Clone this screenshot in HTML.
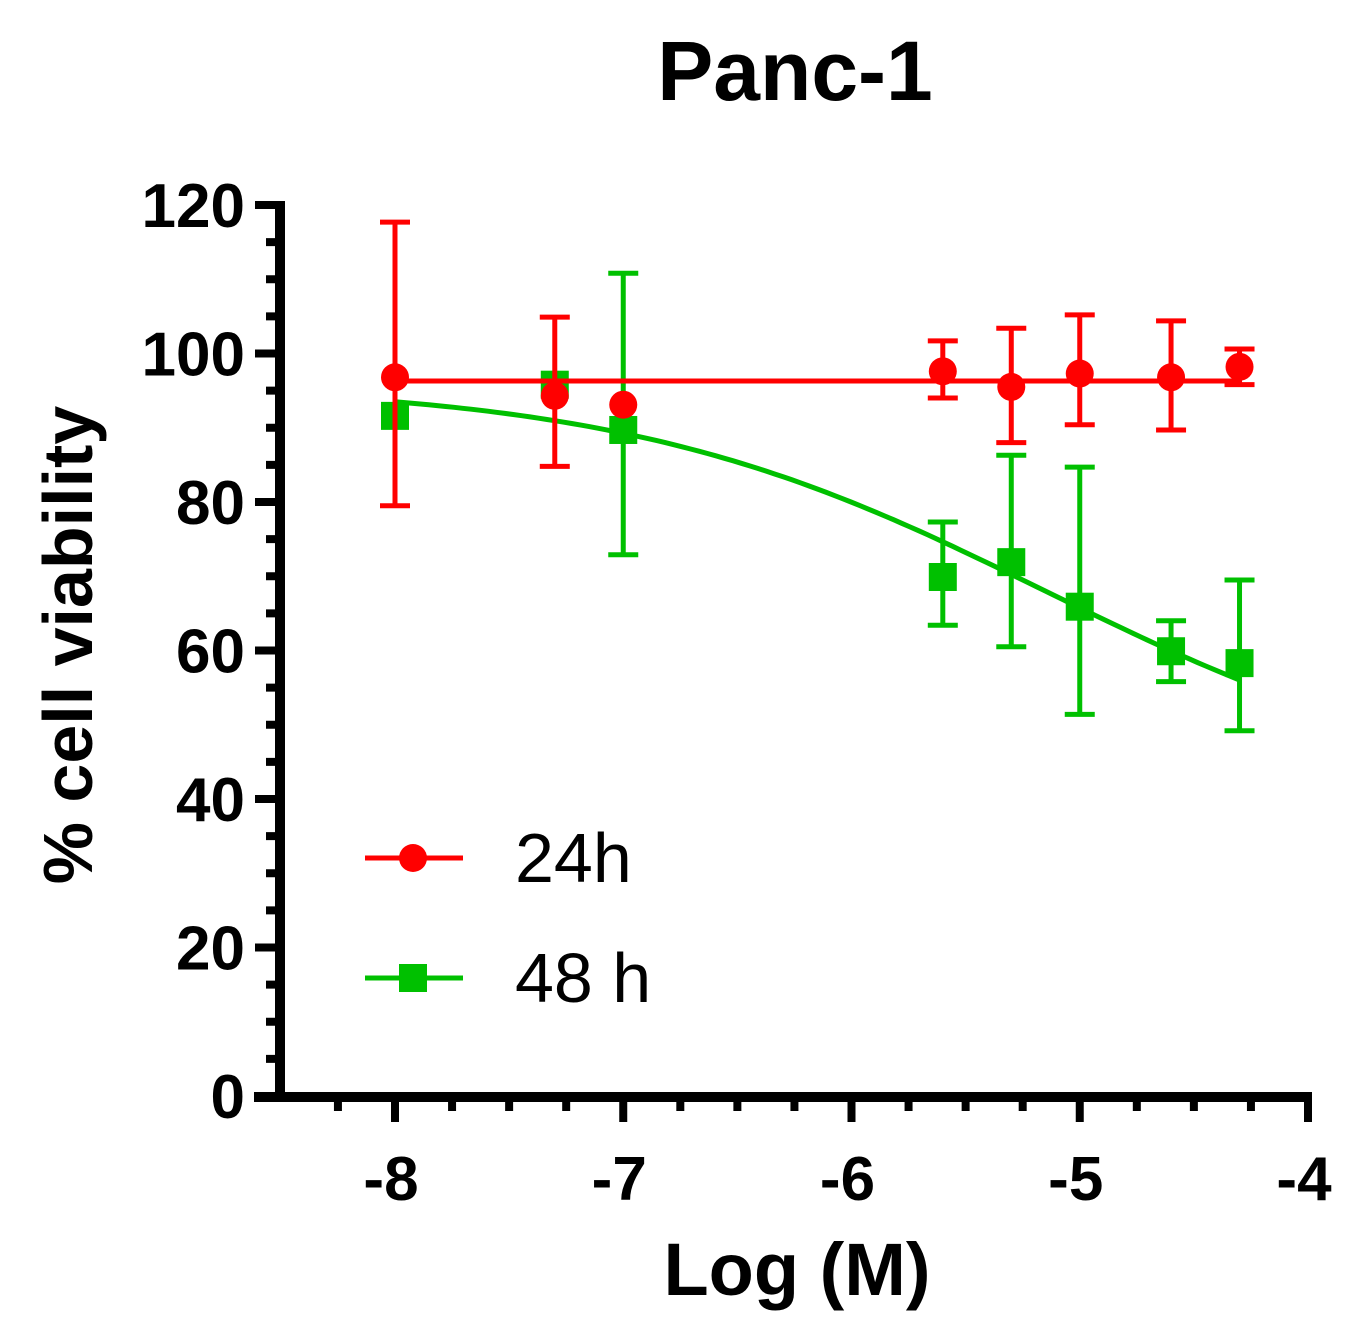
<!DOCTYPE html>
<html><head><meta charset="utf-8"><style>
body{margin:0;background:#fff}
svg text{font-family:"Liberation Sans",Arial,sans-serif}
</style></head><body>
<svg id="chart" width="1371" height="1332" viewBox="0 0 1371 1332" xmlns="http://www.w3.org/2000/svg">
<text x="795" y="100" font-size="84" font-weight="bold" text-anchor="middle">Panc-1</text>
<text transform="translate(92,645) rotate(-90)" font-size="70" font-weight="bold" text-anchor="middle">% cell viability</text>
<text x="797" y="1295" font-size="74" font-weight="bold" text-anchor="middle">Log (M)</text>
<g id="axes"></g>
<g id="series"></g>
<g>
<g>
<line x1="365" y1="858" x2="463" y2="858" stroke="#ff0000" stroke-width="5"/>
<circle cx="413" cy="858" r="14" fill="#ff0000"/>
<text x="515" y="882" font-size="70">24h</text></g>
<g>
<line x1="365" y1="978" x2="463" y2="978" stroke="#00c000" stroke-width="5"/>
<rect x="399" y="964" width="28" height="28" fill="#00c000"/>
<text x="515" y="1002" font-size="70">48 h</text></g>
</g>
</svg>
<script>
const xs = [-8, -7.3, -7, -5.6, -5.3, -5, -4.6, -4.3];
const mean24 = [96.8, 94.3, 93.1, 97.6, 95.5, 97.3, 96.8, 98.2];
const errUp24 = [20.9, 10.6, 0, 4.1, 7.9, 7.9, 7.6, 2.4];
const errDn24 = [17.3, 9.5, 0, 3.6, 7.5, 6.9, 7.1, 2.4];
const mean48 = [91.6, 95.8, 89.7, 69.9, 71.9, 65.9, 59.9, 58.3];
const errUp48 = [0, 0, 21.1, 7.4, 14.4, 18.8, 4.1, 11.2];
const errDn48 = [0, 0, 16.8, 6.5, 11.4, 14.5, 4.1, 9.1];
const fit24 = [96.3];
const fit48 = [96, 40, -5.15, 0.467]; // top, bottom, logIC50, hill
const xTicks = [-8, -7, -6, -5, -4];
const yTicks = [0, 20, 40, 60, 80, 100, 120];

const NS = "http://www.w3.org/2000/svg";
const X = v => 395 + (v + 8) * 228.25;
const Y = v => 1096 - v * 7.425;
function mk(tag, attrs, parent) {
  const e = document.createElementNS(NS, tag);
  for (const k in attrs) e.setAttribute(k, attrs[k]);
  parent.appendChild(e); return e;
}
const ax = document.getElementById('axes');
const yl = mk('line', {x1: 280, y1: Y(120) - 4, x2: 280, y2: 1101, stroke: '#000', 'stroke-width': 10}, ax);


const xl = mk('line', {x1: 254, y1: 1097, x2: X(-4) + 4, y2: 1097, stroke: '#000', 'stroke-width': 10}, ax);


for (let v = 0; v <= 120; v += 5) {
  const major = v % 20 === 0;
  mk('line', {x1: major ? 255 : 266, y1: Y(v), x2: 280, y2: Y(v), stroke: '#000', 'stroke-width': 8}, ax);
}
yTicks.forEach(v => {
  const t = mk('text', {x: 245, y: Y(v) + 22, 'font-size': 62, 'font-weight': 'bold', 'text-anchor': 'end'}, ax);
  
  
  t.textContent = v;
});
for (let v = -8.25; v <= -4; v += 0.25) {
  const major = Math.abs(v - Math.round(v)) < 1e-6;
  mk('line', {x1: X(v), y1: 1097, x2: X(v), y2: major ? 1122 : 1111, stroke: '#000', 'stroke-width': 8}, ax);
}
xTicks.forEach(v => {
  const t = mk('text', {x: X(v) - 4, y: 1200, 'font-size': 62, 'font-weight': 'bold', 'text-anchor': 'middle'}, ax);
  
  
  t.textContent = v;
});
const sg = document.getElementById('series');
const [T, B, C, H] = fit48;
let d = '';
for (let i = 0; i <= 100; i++) {
  const x = -8 + i * 3.7 / 100;
  const y = B + (T - B) / (1 + Math.pow(10, (x - C) * H));
  d += (i ? 'L' : 'M') + X(x).toFixed(1) + ',' + Y(y).toFixed(1);
}
const c48 = mk('path', {d: d, fill: 'none', stroke: '#00c000', 'stroke-width': 5}, sg);


function drawSeries(mean, up, dn, color, shape, name) {
  xs.forEach((x, i) => {
    const g = mk('g', {}, sg);
    
    
    const top = Y(mean[i] + up[i]), bot = Y(mean[i] - dn[i]);
    if (up[i] > 0 || dn[i] > 0) {
      mk('line', {x1: X(x), y1: top, x2: X(x), y2: bot, stroke: color, 'stroke-width': 5}, g);
      mk('line', {x1: X(x) - 15, y1: top, x2: X(x) + 15, y2: top, stroke: color, 'stroke-width': 5}, g);
      mk('line', {x1: X(x) - 15, y1: bot, x2: X(x) + 15, y2: bot, stroke: color, 'stroke-width': 5}, g);
    }
    if (shape === 'c') mk('circle', {cx: X(x), cy: Y(mean[i]), r: 14, fill: color}, g);
    else mk('rect', {x: X(x) - 14, y: Y(mean[i]) - 14, width: 28, height: 28, fill: color}, g);
  });
}
drawSeries(mean48, errUp48, errDn48, '#00c000', 's', 'series-48h');
const f24 = mk('line', {x1: X(-8), y1: Y(fit24[0]), x2: X(-4.3), y2: Y(fit24[0]), stroke: '#ff0000', 'stroke-width': 5}, sg);


drawSeries(mean24, errUp24, errDn24, '#ff0000', 'c', 'series-24h');
</script>
</body></html>
